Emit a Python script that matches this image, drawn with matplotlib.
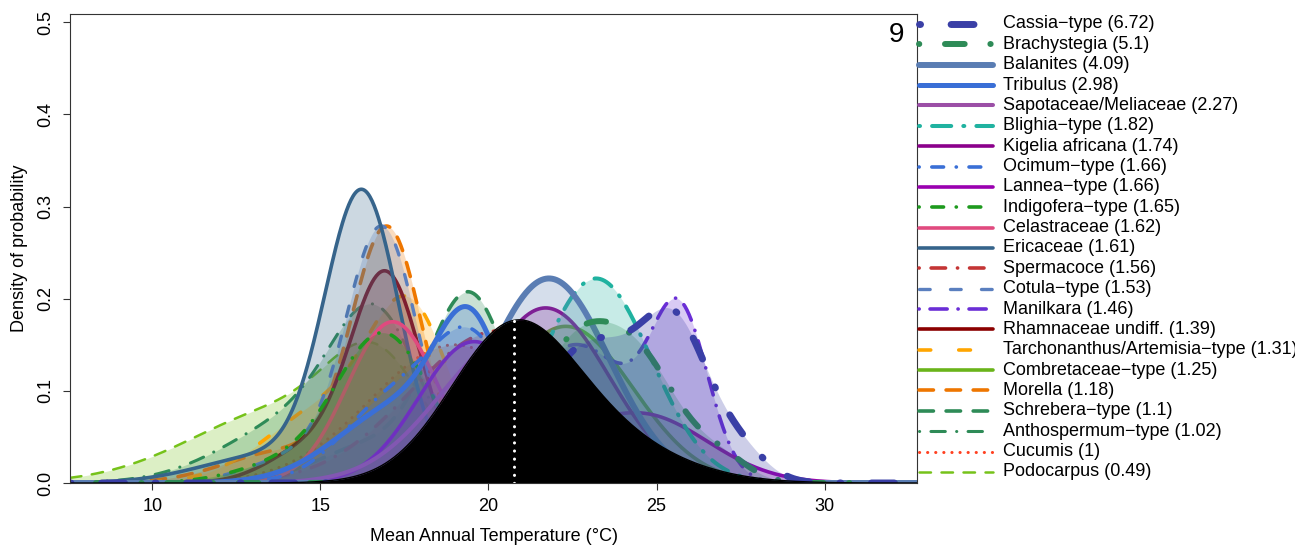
import matplotlib
matplotlib.use("Agg")
import matplotlib.pyplot as plt
import numpy as np
from matplotlib.lines import Line2D

plt.rcParams['font.family'] = ['Liberation Sans', 'DejaVu Sans']
plt.rcParams['font.size'] = 13

W, H = 1295, 548

# Legend entries, in the order of the values in brackets
labels = [
    "Cassia−type (6.72)", "Brachystegia (5.1)", "Balanites (4.09)", "Tribulus (2.98)",
    "Sapotaceae/Meliaceae (2.27)", "Blighia−type (1.82)", "Kigelia africana (1.74)",
    "Ocimum−type (1.66)", "Lannea−type (1.66)", "Indigofera−type (1.65)",
    "Celastraceae (1.62)", "Ericaceae (1.61)", "Spermacoce (1.56)", "Cotula−type (1.53)",
    "Manilkara (1.46)", "Rhamnaceae undiff. (1.39)", "Tarchonanthus/Artemisia−type (1.31)",
    "Combretaceae−type (1.25)", "Morella (1.18)", "Schrebera−type (1.1)",
    "Anthospermum−type (1.02)", "Cucumis (1)", "Podocarpus (0.49)",
]
colors = [
    "#3a3fa6", "#2e8b57", "#5a7db3", "#3a6fd6", "#9b4fa6", "#20b2a0", "#8b008b",
    "#3a6fd6", "#9a00b0", "#1e9a1e", "#e04a7f", "#36648b", "#c43535", "#5a7fbf",
    "#6a2ed6", "#8b0000", "#ffa500", "#6ab41a", "#ee7600", "#2e8b57", "#2e8b57",
    "#ff4020", "#76c21a",
]
widths = [5.0, 4.3, 4.3, 3.6, 2.9, 2.9, 2.6, 2.6, 2.6, 2.6, 2.6, 2.6, 2.6, 2.4,
          2.6, 2.6, 2.6, 2.6, 2.6, 2.6, 2.2, 2.2, 1.8]
# dash patterns in multiples of the line width (None = solid)
dashes = [
    (0.15, 4.4, 3.3, 4.4), (0.05, 4.3, 3.3, 4.3), None, None, None,
    (0.25, 3.0, 4.75, 3.0), None, (0.05, 3.5, 3.25, 3.5), None,
    (0.05, 3.5, 3.25, 3.5), None, None, (0.05, 3.3, 4.0, 3.3), (3.2, 6.1),
    (0.05, 3.0, 4.75, 3.0), None, (3.25, 7.75), None, (4.0, 3.5), (4.0, 3.5),
    (0.05, 3.7, 4.7, 3.7), (0.05, 2.6), (4.6, 4.2),
]

# Modes of each taxon's density: (centre in °C, height, spread in °C)
cassia = [(23.0, 0.15, 1.5), (25.6, 0.15, 1.0), (27.5, 0.03, 0.8)]
brachystegia = [(22.3, 0.12, 1.2), (24.4, 0.13, 1.3), (27.0, 0.02, 0.8)]
balanites = [(21.8, 0.222, 1.8)]
tribulus = [(19.5, 0.14, 1.0), (17.5, 0.085, 1.9)]
sapotaceae = [(20.8, 0.16, 2.2)]
blighia = [(23.2, 0.222, 1.65)]
kigelia = [(21.7, 0.19, 1.9)]
ocimum = [(19.6, 0.14, 1.2), (17.2, 0.09, 1.5)]
lannea = [(19.5, 0.15, 1.6), (24.5, 0.075, 2.0)]
indigofera = [(16.9, 0.16, 1.4), (14.0, 0.02, 1.5)]
celastraceae = [(17.15, 0.175, 1.35)]
ericaceae = [(16.25, 0.307, 1.1), (13.5, 0.03, 2.0)]
spermacoce = [(20.3, 0.165, 2.6)]
cotula = [(16.85, 0.27, 1.05), (14.5, 0.03, 1.5)]
manilkara = [(22.6, 0.15, 1.7), (25.7, 0.17, 0.85)]
rhamnaceae = [(16.95, 0.225, 1.05), (14.6, 0.035, 1.2)]
tarchonanthus = [(17.7, 0.17, 1.2), (15.2, 0.08, 1.8)]
combretaceae = [(22.3, 0.17, 2.0)]
morella = [(17.0, 0.27, 1.05), (14.0, 0.035, 1.8)]
schrebera = [(19.45, 0.2, 1.2), (16.5, 0.04, 1.6)]
anthospermum = [(16.7, 0.15, 1.3), (14.5, 0.07, 2.2)]
cucumis = [(19.0, 0.15, 2.5)]
podocarpus = [(16.7, 0.1, 1.4), (14.0, 0.08, 2.8)]

taxa_modes = [
    cassia, brachystegia, balanites, tribulus, sapotaceae, blighia, kigelia,
    ocimum, lannea, indigofera, celastraceae, ericaceae, spermacoce, cotula,
    manilkara, rhamnaceae, tarchonanthus, combretaceae, morella, schrebera,
    anthospermum, cucumis, podocarpus,
]

# density of all modern samples, and its mean
all_samples = [(20.6, 0.13, 1.8), (22.5, 0.06, 2.5)]
mean_temp = 20.77

xlim = (7.55, 32.75)
ylim = (0.0, 0.509)
x_ticks = [10, 15, 20, 25, 30]
y_ticks = [0.0, 0.1, 0.2, 0.3, 0.4, 0.5]
panel_label = "9"


def density(x, modes):
    y = np.zeros_like(x)
    for centre, height, spread in modes:
        y += height * np.exp(-0.5 * ((x - centre) / spread) ** 2)
    return y


fig = plt.figure(figsize=(W / 100, H / 100), dpi=100)
ax = fig.add_axes([70 / W, 1 - 483 / H, (917 - 70) / W, (483 - 14) / H])

x = np.linspace(xlim[0], xlim[1], 800)

# lowest values first so the strongest taxa end up on top
for i in reversed(range(len(labels))):
    y = density(x, taxa_modes[i])
    ax.fill_between(x, 0, y, color=colors[i], alpha=0.25, lw=0, zorder=2)
    ln, = ax.plot(x, y, color=colors[i], lw=widths[i], solid_capstyle="round",
                  dash_capstyle="round", zorder=2)
    if dashes[i] is not None:
        ln.set_linestyle((0, dashes[i]))

# all samples on top, with a dotted mark at their mean
y_all = density(x, all_samples)
ax.fill_between(x, 0, y_all, color="black", lw=0, zorder=5)
ax.plot(x, y_all, color="black", lw=1, zorder=5)
ax.plot([mean_temp, mean_temp], [0, np.interp(mean_temp, x, y_all)],
        color="white", lw=2.2, linestyle=(0, (0.05, 2.6)), dash_capstyle="round",
        zorder=6)

ax.set_xlim(*xlim)
ax.set_ylim(*ylim)
ax.set_xticks(x_ticks)
ax.set_yticks(y_ticks)
ax.set_yticklabels([f"{v:.1f}" for v in y_ticks], rotation=90, va="center")
ax.tick_params(direction="out", length=5, width=0.8, color="#333333", pad=6)
for s in ax.spines.values():
    s.set_color("#333333")
    s.set_linewidth(0.8)
    s.set_zorder(7)

ax.set_xlabel("Mean Annual Temperature (°C)", labelpad=9)
ax.set_ylabel("Density of probability", labelpad=7)
ax.text(0.985, 0.955, panel_label, transform=ax.transAxes, fontsize=20,
        ha="right", va="center")

# legend drawn to the right of the panel
row0, row_step = 24, 20.36
for i, lab in enumerate(labels):
    yy = 1 - (row0 + i * row_step) / H
    ln = Line2D([919 / W, 993 / W], [yy, yy], transform=fig.transFigure,
                color=colors[i], lw=widths[i], solid_capstyle="round",
                dash_capstyle="round")
    if dashes[i] is not None:
        ln.set_linestyle((0, dashes[i]))
    fig.add_artist(ln)
    fig.text(1003 / W, yy, lab, ha="left", va="center", fontsize=13)

fig.savefig("out.png", dpi=100)
